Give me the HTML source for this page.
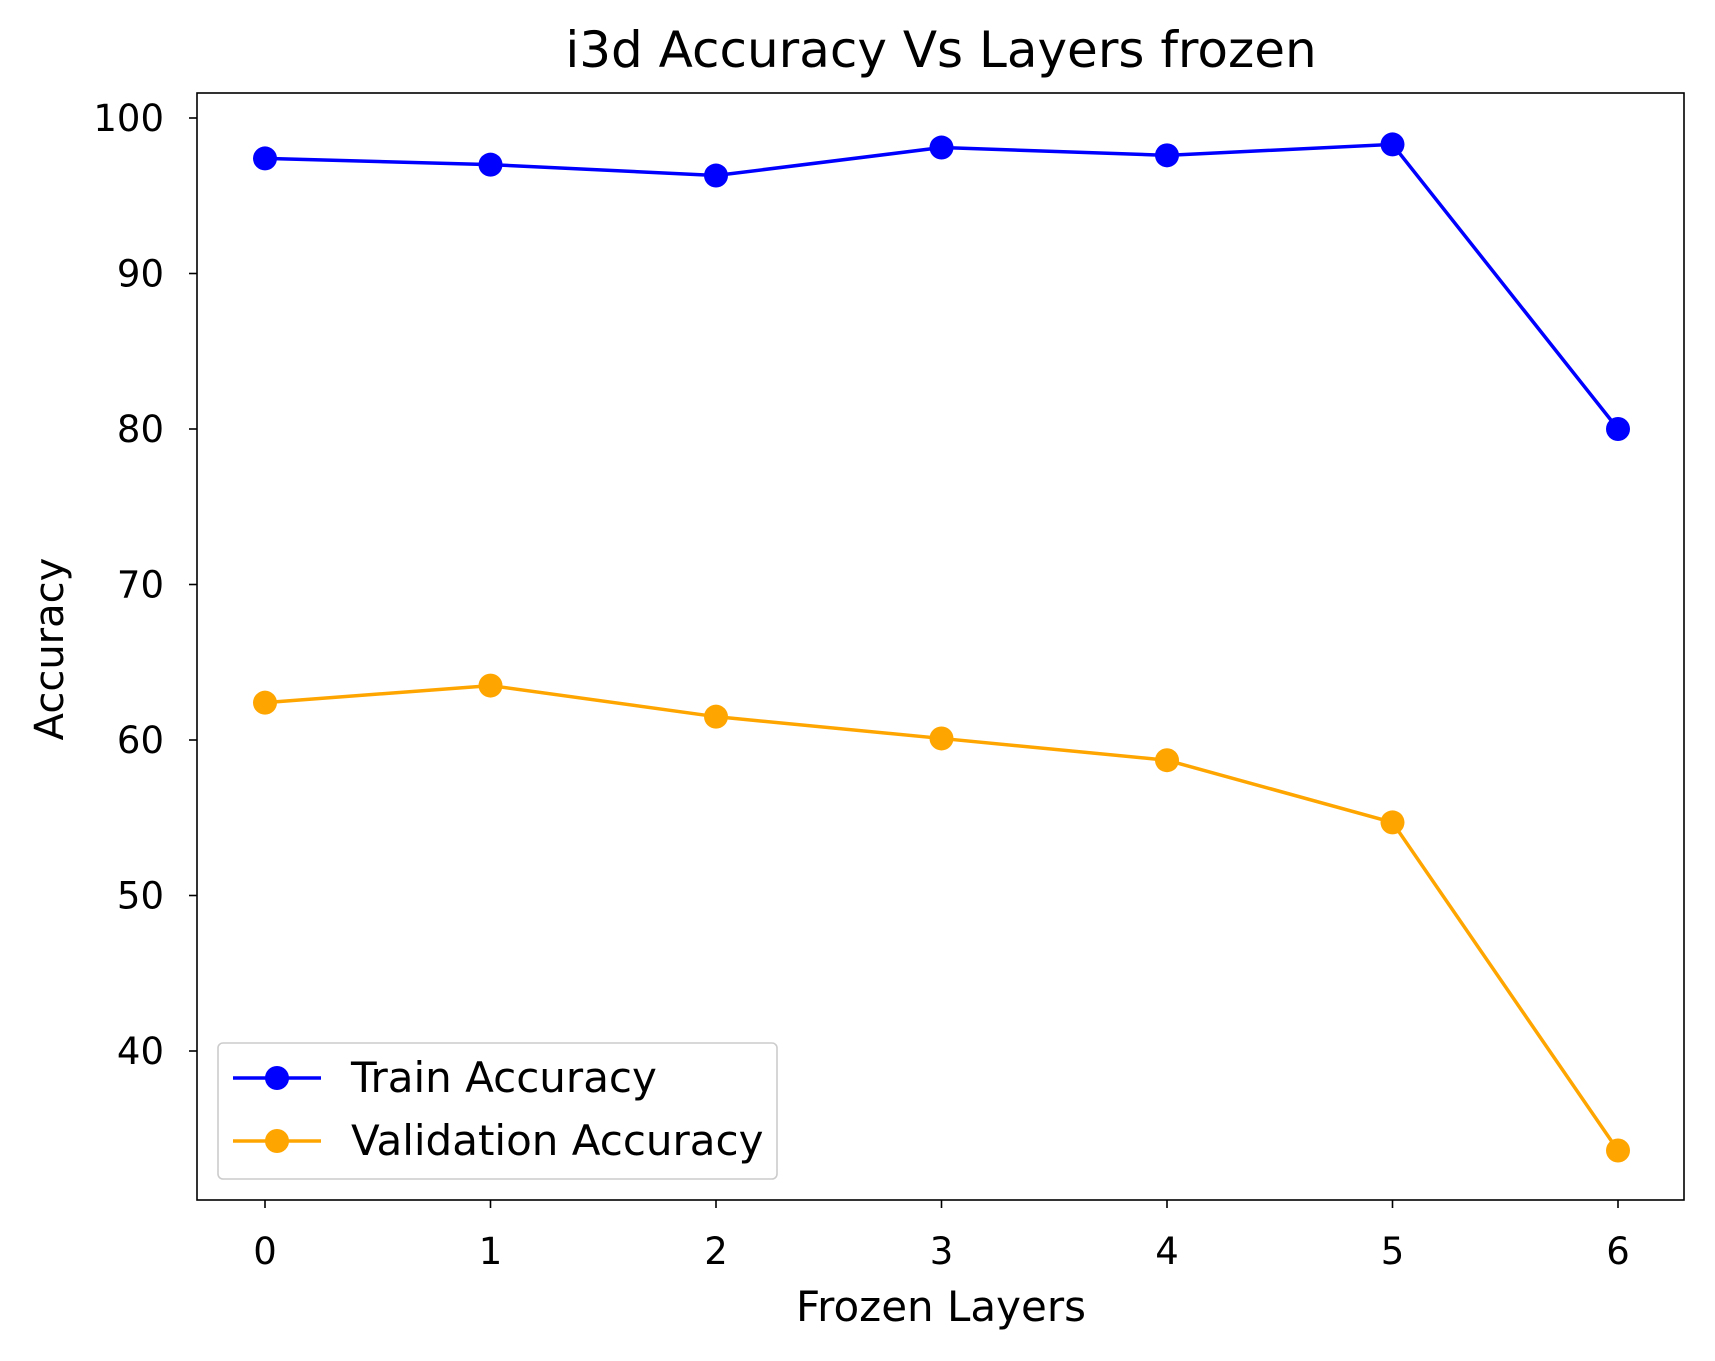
<!DOCTYPE html>
<html><head><meta charset="utf-8"><style>
html,body{margin:0;padding:0;background:#fff;}
svg{display:block;font-family:"DejaVu Sans","Liberation Sans",sans-serif;}
</style></head><body>
<svg id="chart" width="1715" height="1361">
<text x="941" y="67" font-size="50" text-anchor="middle">i3d Accuracy Vs Layers frozen</text>
<g id="axes"></g>
<g id="series"></g>
<rect x="197" y="93" width="1487" height="1107" fill="none" stroke="#000" stroke-width="1.6"/>
<text x="941" y="1321" font-size="42" text-anchor="middle">Frozen Layers</text>
<text transform="translate(63,649) rotate(-90)" font-size="40" text-anchor="middle">Accuracy</text>
<g>
<rect x="218" y="1043" width="559" height="136" rx="5" fill="#fff" stroke="#ccc" stroke-width="1.6"/>
<line x1="233" y1="1078" x2="321" y2="1078" stroke="#0000ff" stroke-width="3.5"/>
<circle cx="277" cy="1078" r="12" fill="#0000ff"/>
<text x="351" y="1092" font-size="42">Train Accuracy</text>
<line x1="233" y1="1141" x2="321" y2="1141" stroke="#ffa500" stroke-width="3.5"/>
<circle cx="277" cy="1141" r="12" fill="#ffa500"/>
<text x="351" y="1155" font-size="42">Validation Accuracy</text>
</g>
</svg>
<script>
const categories=[0,1,2,3,4,5,6];
const trainValues=[97.4,97.0,96.3,98.1,97.6,98.3,80.0];
const valValues=[62.4,63.5,61.5,60.1,58.7,54.7,33.6];
const yTicks=[40,50,60,70,80,90,100];
const NS='http://www.w3.org/2000/svg';
function xs(v){return 265+(1618-265)*v/6;}
function ys(v){return 1051-(v-40)*(1051-118)/60;}
const axes=document.getElementById('axes');
function mk(tag,attrs,parent){const e=document.createElementNS(NS,tag);for(const k in attrs)e.setAttribute(k,attrs[k]);parent.appendChild(e);return e;}
categories.forEach(c=>{
  const l=mk('line',{x1:xs(c),x2:xs(c),y1:1200,y2:1208,stroke:'#000','stroke-width':1.6},axes);
  
  
  const t=mk('text',{x:xs(c),y:1264,'font-size':37,'text-anchor':'middle'},axes);
  t.textContent=c;
  
  
});
yTicks.forEach(v=>{
  const l=mk('line',{x1:189,x2:197,y1:ys(v),y2:ys(v),stroke:'#000','stroke-width':1.6},axes);
  
  
  const t=mk('text',{x:164,y:ys(v)+13,'font-size':37,'text-anchor':'end'},axes);
  t.textContent=v;
  
  
});
const series=document.getElementById('series');
function draw(vals,color,name){
  const p=mk('polyline',{points:vals.map((v,i)=>xs(categories[i])+','+ys(v)).join(' '),fill:'none',stroke:color,'stroke-width':3.5},series);
  
  
  vals.forEach((v,i)=>{
    const c=mk('circle',{cx:xs(categories[i]),cy:ys(v),r:12,fill:color},series);
    
    
  });
}
draw(trainValues,'#0000ff','train');
draw(valValues,'#ffa500','validation');
</script>
</body></html>
